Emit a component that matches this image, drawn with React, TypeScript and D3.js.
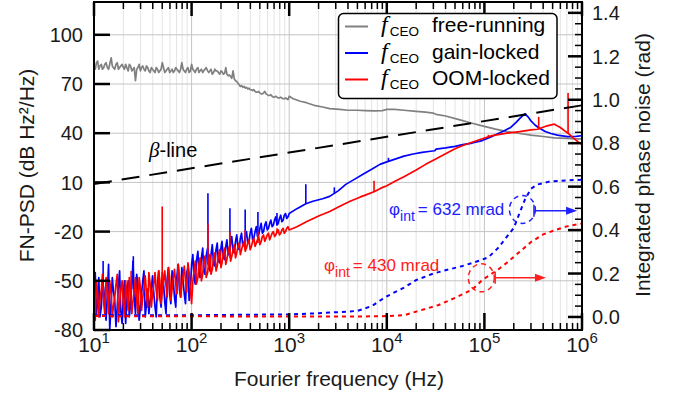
import React from 'react';
import * as d3 from 'd3';

// ---------- data ----------
const noiseFreqs = [10, 10.6, 11.2, 11.9, 12.6, 13.3, 14.1, 15, 15.8, 16.8, 17.8, 18.8, 20, 21.1, 22.4, 23.7, 25.1, 26.6, 28.2, 29.9,
  31.6, 33.5, 35.5, 37.6, 39.8, 42.2, 44.7, 47.3, 50.1, 53.1, 56.2, 59.6, 63.1, 66.8, 70.8, 75, 79.4, 84.1, 89.1, 94.4,
  100, 106, 112, 119, 126, 133, 141, 150, 158, 168, 178, 188, 200, 211, 224, 237, 251, 266, 282, 299,
  316, 335, 355, 376, 398, 422, 447, 473, 501, 531, 562, 596, 631, 668, 708, 750, 794, 841, 891, 944, 1000];
const noiseFreqsMid = [10.3, 10.9, 11.5, 12.2, 12.9, 13.7, 14.5, 15.4, 16.3, 17.3, 18.3, 19.4, 20.5, 21.7, 23, 24.4, 25.8, 27.4, 29, 30.7,
  32.5, 34.5, 36.5, 38.7, 41, 43.4, 46, 48.7, 51.6, 54.7, 57.9, 61.3, 64.9, 68.8, 72.9, 77.2, 81.8, 86.6, 91.7, 97.2,
  103, 109, 116, 122, 130, 137, 146, 154, 163, 173, 183, 194, 205, 218, 230, 244, 258, 274, 290, 307,
  325, 345, 365, 387, 410, 434, 460, 487, 516, 546, 579, 613, 649, 688, 729, 772, 818, 866, 917, 972];

const freeLowDb = [81, 83, 79, 82, 80, 83, 79, 86, 80, 82, 79, 81, 80, 82, 78, 81, 79, 72, 80, 78,
  81, 78, 80, 77, 79, 77, 79, 78, 83, 77, 79, 77, 79, 78, 79, 77, 83, 78, 79, 77,
  82, 78, 79, 77, 79, 78, 80, 77, 79, 77, 78, 77, 78, 76, 80, 75, 74.5, 78, 72, 70.5,
  68.5, 68, 67.5, 67, 66.5, 66, 65.5, 65, 64.5, 64, 65.5, 63.5, 63, 62.5, 62, 62, 61.5, 61.5, 61, 61, 62.5];
const freeMidDb = [79, 84, 81, 79, 82, 80, 82, 81, 79, 83, 80, 82, 79, 80, 82, 78, 80, 79, 82, 80,
  79, 81, 78, 80, 78, 80, 77, 79, 80, 78, 80, 78, 77, 80, 78, 79, 79, 77, 80, 78,
  79, 77, 80, 78, 77, 79, 78, 78, 76, 79, 78, 76, 77.5, 76.5, 76, 75.5, 73.5, 73, 71.5, 69.5,
  69, 68.5, 68, 67.5, 66.5, 66.5, 65, 65.5, 64, 64.5, 64, 63, 63.5, 62, 62.5, 61.5, 62, 61, 61.5, 60.5];

const gainLowDb = [-52, -70, -48, -66, -55, -74, -40, -63, -56, -78, -52, -68, -58, -76, -50, -64, -38, -70, -54, -66,
  -50, -72, -55, -62, -47, -66, -52, -60, -45, -63, -49, -58, -44, -60, -47, -55, -42, -58, -45, -62,
  -40, -48, -38, -46, -36, -44, -35, -42, -34, -40, -31, -38, -30, -36, -29, -34, -27, -32, -26, -30,
  -24, -29, -23, -27, -21, -25, -20, -23, -18, -21, -16, -19, -15, -17, -13, -16, -12, -14, -10, -12, -9];
const gainMidDb = [-45, -62, -72, -50, -64, -58, -80, -48, -62, -66, -44, -76, -50, -62, -72, -52, -60, -46, -74, -58,
  -44, -64, -70, -55, -58, -72, -44, -66, -52, -70, -42, -64, -50, -66, -40, -60, -50, -64, -42, -55,
  -34, -52, -32, -48, -30, -46, -30, -44, -28, -41, -27, -39, -26, -37, -25, -34, -23, -33, -22, -31,
  -21, -28, -20, -26, -18, -24, -17, -22, -15, -20, -14, -18, -13, -16, -11, -15, -10, -13, -9, -11];

const oomLowDb = [-66, -50, -72, -55, -64, -48, -70, -58, -66, -52, -75, -56, -64, -50, -68, -55, -62, -48, -70, -54,
  -60, -47, -66, -52, -58, -45, -62, -50, -56, -44, -60, -48, -55, -43, -58, -47, -53, -41, -57, -45,
  -64, -44, -52, -40, -50, -39, -48, -38, -46, -36, -44, -35, -42, -33, -40, -32, -38, -31, -36, -29,
  -34, -28, -32, -27, -31, -26, -29, -25, -28, -23, -26, -22, -25, -21, -23, -20, -22, -19, -21, -18, -19];
const oomMidDb = [-74, -58, -62, -46, -70, -56, -50, -72, -60, -46, -64, -50, -72, -58, -48, -70, -56, -62, -48, -68,
  -55, -58, -45, -66, -52, -56, -44, -64, -50, -53, -42, -62, -48, -52, -40, -60, -47, -50, -39, -55,
  -50, -38, -48, -36, -46, -35, -45, -34, -43, -33, -41, -31, -39, -30, -37, -29, -35, -28, -33, -27,
  -31, -26, -30, -25, -29, -24, -27, -23, -26, -22, -24, -21, -23, -20, -22, -19, -21, -18, -20, -17];

const freeHighFreqs = [1100, 1300, 1500, 1800, 2200, 2600, 3300, 4000, 5000, 6000, 7500, 9000, 10000, 12000, 15000, 20000,
  25000, 30000, 32000, 40000, 55000, 70000, 95000, 130000, 170000, 230000, 300000, 400000, 520000, 700000, 900000, 1000000];
const freeHighDb = [61, 59.5, 58.6, 57, 56, 55, 54.5, 54, 54, 53.8, 53.6, 53.8, 54.5, 54.5, 54, 53.3,
  52.8, 52.2, 51.5, 50.5, 48.3, 46.5, 44.5, 42.5, 41, 39.8, 38.8, 38, 37.2, 36.8, 36.6, 36.5];

const gainHighFreqs = [1200, 1480, 1750, 2200, 2600, 3200, 3800, 4700, 5700, 7000, 8500, 10000, 12600, 15000, 18600, 23000,
  28000, 31000, 32000, 40000, 50000, 60000, 75000, 95000, 115000, 130000, 160000, 186000, 210000, 235000, 260000,
  280000, 300000, 330000, 360000, 420000, 480000, 560000, 710000, 850000, 1000000];
const gainHighDb = [-6, -3, -1.5, 0, 1.5, 5, 8.8, 12, 15, 18, 21, 22.5, 24.5, 26, 27.3, 28.3,
  29, 29.3, 30.3, 31, 32, 33, 34, 35.5, 37.5, 39, 41.5, 43.5, 46.5, 49.5, 51.8,
  50, 47.5, 45, 43.3, 41, 39.8, 38.8, 37.9, 38, 38.5];

const oomHighFreqs = [1200, 1500, 2000, 2600, 3300, 4200, 5300, 6500, 7500, 8700, 10000, 12000, 15000, 20000, 25000, 30000,
  40000, 50000, 60000, 75000, 95000, 120000, 170000, 230000, 300000, 350000, 440000, 520000, 600000, 680000, 720000,
  800000, 900000, 1000000];
const oomHighDb = [-17, -14, -10.5, -7.7, -4.5, -1.5, 1, 3, 4.5, 6.5, 8, 10.5, 13.5, 17.5, 21, 23.5,
  27.5, 30.5, 32.5, 34.5, 36.6, 38.5, 40, 41, 42, 42.4, 44.5, 45.5, 43.5, 41, 40,
  37.5, 35, 33];

// spikes: [frequency, base dB, peak dB]
const gainSpikes = [[12.4, -60, -38], [25.3, -55, -35], [147, -40, 3.4], [247, -30, -5.7], [354, -25, -6.5],
  [478, -21, -8], [750, -16, -8.7], [1480, -3, 8.8], [2900, 3, 7], [10400, 22.5, 25]];
const oomSpikes = [[24, -58, -44], [50, -56, -4.7], [147, -40, -15], [247, -36, -20], [354, -31, -19],
  [478, -27, -20], [750, -21, -18], [7400, 4.5, 11], [110000, 37.5, 39], [360000, 42.4, 50], [720000, 40, 64.5]];

const betaFreqs = [10, 1000000];
const betaDb = [9, 57];

const ipnGainFreqs = [10, 100, 1000, 2000, 4000, 5000, 7000, 8500, 10000, 15000, 20000, 30000, 40000, 60000, 90000,
  110000, 140000, 170000, 200000, 230000, 260000, 300000, 350000, 450000, 600000, 1000000];
const ipnGainRad = [0.008, 0.008, 0.012, 0.017, 0.025, 0.028, 0.05, 0.075, 0.095, 0.135, 0.17, 0.2, 0.215, 0.235, 0.26,
  0.275, 0.32, 0.37, 0.41, 0.48, 0.54, 0.59, 0.61, 0.622, 0.627, 0.632];

const ipnOomFreqs = [10, 100, 1000, 5000, 10000, 15000, 22000, 34000, 50000, 75000, 95000, 140000, 170000, 230000,
  300000, 400000, 530000, 700000, 1000000];
const ipnOomRad = [0.004, 0.003, 0.002, 0.002, 0.004, 0.008, 0.03, 0.055, 0.088, 0.126, 0.17, 0.22, 0.25, 0.3,
  0.345, 0.38, 0.4, 0.417, 0.43];

const leftTicks = [-80, -50, -20, 10, 40, 70, 100];
const rightTicks = [0, 0.2, 0.4, 0.6, 0.8, 1.0, 1.2, 1.4];
const rightTickLabels = ['0.0', '0.2', '0.4', '0.6', '0.8', '1.0', '1.2', '1.4'];
const decades = [10, 100, 1000, 10000, 100000, 1000000];
const decadeExps = ['1', '2', '3', '4', '5', '6'];

const legendItems = ['free-running', 'gain-locked', 'OOM-locked'];
const COLORS = { free: '#808080', gain: '#0000ff', oom: '#ff0000' };

// ---------- layout ----------
const W = 682, H = 396;
const L = 94, R = 582, T = 2, B = 330;
const FONT = '"Liberation Sans", Arial, Helvetica, sans-serif';

function merge(low: number[], mid: number[]) {
  const out: number[][] = [];
  noiseFreqs.forEach((f, i) => {
    out.push([f, low[i]]);
    if (i < noiseFreqsMid.length) out.push([noiseFreqsMid[i], mid[i]]);
  });
  return out;
}

export default function App() {
  const x = d3.scaleLog().domain([10, 1e6]).range([L, R]);
  const yL = d3.scaleLinear().domain([-80, 120]).range([B, T]);
  const yR = d3.scaleLinear().domain([-0.06, 1.45]).range([B, T]);

  const lineL = d3.line<number[]>().x(d => x(d[0])).y(d => yL(d[1]));
  const lineR = d3.line<number[]>().x(d => x(d[0])).y(d => yR(d[1]));

  const freePts = merge(freeLowDb, freeMidDb).concat(freeHighFreqs.map((f, i) => [f, freeHighDb[i]]));
  const gainPts = merge(gainLowDb, gainMidDb).concat(gainHighFreqs.map((f, i) => [f, gainHighDb[i]]));
  const oomPts = merge(oomLowDb, oomMidDb).concat(oomHighFreqs.map((f, i) => [f, oomHighDb[i]]));
  const betaPts = betaFreqs.map((f, i) => [f, betaDb[i]]);
  const ipnGain = ipnGainFreqs.map((f, i) => [f, ipnGainRad[i]]);
  const ipnOom = ipnOomFreqs.map((f, i) => [f, ipnOomRad[i]]);

  const minor: number[] = [];
  decades.slice(0, -1).forEach(d => { for (let k = 2; k <= 9; k++) minor.push(d * k); });
  const rightMinor: number[] = [];
  for (let i = 0; i <= 28; i++) { if (i % 4 !== 0) rightMinor.push(i * 0.05); }

  const arrow = (x1: number, x2: number, y: number, color: string) => (
    <g>
      <line x1={x1} x2={x1} y1={y - 6} y2={y + 6} stroke={color} strokeWidth={1.5} />
      <line x1={x1} x2={x2 - 9} y1={y} y2={y} stroke={color} strokeWidth={1.5} />
      <polygon points={`${x2},${y} ${x2 - 11},${y - 4} ${x2 - 11},${y + 4}`} fill={color} />
    </g>
  );

  return (
    <svg width={W} height={H} style={{ position: 'absolute', left: 0, top: 0, background: '#fff' }} fontFamily={FONT}>
      <defs>
        <clipPath id="plot"><rect x={L} y={T} width={R - L} height={B - T} /></clipPath>
      </defs>
      <rect x={0} y={0} width={W} height={H} fill="#fff" />
      {/* grid */}
      {minor.map(f => <line key={'gm' + f} x1={x(f)} x2={x(f)} y1={T} y2={B} stroke="#e4e4e4" strokeWidth={1} />)}
      {decades.map(f => <line key={'gd' + f} x1={x(f)} x2={x(f)} y1={T} y2={B} stroke="#c4c4c4" strokeWidth={1} />)}
      {leftTicks.map(v => <line key={'gh' + v} x1={L} x2={R} y1={yL(v)} y2={yL(v)} stroke="#c4c4c4" strokeWidth={1} />)}

      <g clipPath="url(#plot)" fill="none" strokeLinejoin="round">
        <path d={lineL(freePts) || ''} stroke={COLORS.free} strokeWidth={1.7} />
        <path d={lineL(gainPts) || ''} stroke={COLORS.gain} strokeWidth={1.7} />
        {gainSpikes.map((s, i) => <line key={'gs' + i} x1={x(s[0])} x2={x(s[0])} y1={yL(s[1])} y2={yL(s[2])} stroke={COLORS.gain} strokeWidth={1.6} />)}
        <path d={lineL(oomPts) || ''} stroke={COLORS.oom} strokeWidth={1.7} />
        {oomSpikes.map((s, i) => <line key={'os' + i} x1={x(s[0])} x2={x(s[0])} y1={yL(s[1])} y2={yL(s[2])} stroke={COLORS.oom} strokeWidth={1.6} />)}
        <path d={lineL(betaPts) || ''} stroke="#000" strokeWidth={2} strokeDasharray="18,10" />
        <path d={lineR(ipnGain) || ''} stroke={COLORS.gain} strokeWidth={2} strokeDasharray="4,4" />
        <path d={lineR(ipnOom) || ''} stroke={COLORS.oom} strokeWidth={2} strokeDasharray="4,4" />
      </g>

      {/* frame & ticks */}
      <rect x={L} y={T} width={R - L} height={B - T} fill="none" stroke="#000" strokeWidth={2} />
      {leftTicks.map(v => <line key={'lt' + v} x1={L} x2={L + 16} y1={yL(v)} y2={yL(v)} stroke="#000" strokeWidth={2.5} />)}
      {rightTicks.map(v => <line key={'rt' + v} x1={R - 14} x2={R} y1={yR(v)} y2={yR(v)} stroke="#000" strokeWidth={2.5} />)}
      {rightMinor.map(v => <line key={'rm' + v} x1={R - 7} x2={R} y1={yR(v)} y2={yR(v)} stroke="#000" strokeWidth={1.5} />)}
      {decades.map(f => <g key={'bt' + f}>
        <line x1={x(f)} x2={x(f)} y1={B} y2={B - 17} stroke="#000" strokeWidth={2.5} />
        <line x1={x(f)} x2={x(f)} y1={T} y2={T + 14} stroke="#000" strokeWidth={2.5} />
      </g>)}
      {minor.map(f => <g key={'bm' + f}>
        <line x1={x(f)} x2={x(f)} y1={B} y2={B - 7} stroke="#000" strokeWidth={1.5} />
        <line x1={x(f)} x2={x(f)} y1={T} y2={T + 7} stroke="#000" strokeWidth={1.5} />
      </g>)}

      {/* tick labels */}
      {leftTicks.map(v => <text key={'ll' + v} x={83} y={yL(v)} dy="0.36em" textAnchor="end" fontSize={20} fill="#1a1a1a">{v}</text>)}
      {rightTicks.map((v, i) => <text key={'rl' + v} x={592} y={yR(v)} dy="0.36em" textAnchor="start" fontSize={20} fill="#1a1a1a">{rightTickLabels[i]}</text>)}
      {decades.map((f, i) => <text key={'xl' + f} x={x(f)} y={352} textAnchor="middle" fontSize={21} fill="#1a1a1a">
        10<tspan fontSize={15} dy={-9}>{decadeExps[i]}</tspan></text>)}

      {/* axis titles */}
      <text x={339} y={386} textAnchor="middle" fontSize={21} fill="#1a1a1a">Fourier frequency (Hz)</text>
      <text transform="translate(33.5,165.5) rotate(-90)" textAnchor="middle" fontSize={21} fill="#1a1a1a">FN-PSD (dB Hz²/Hz)</text>
      <text transform="translate(650,165) rotate(-90)" textAnchor="middle" fontSize={21} fill="#1a1a1a">Integrated phase noise (rad)</text>

      {/* beta-line label */}
      <text x={149} y={157} fontSize={20} fill="#000">
        <tspan fontFamily='"Liberation Serif", "Times New Roman", serif' fontStyle="italic" fontSize={21}>β</tspan>-line</text>

      {/* legend */}
      <rect x={338.5} y={13.5} width={218.5} height={85} rx={5} fill="#fff" stroke="#000" strokeWidth={1.5} />
      {legendItems.map((lab, i) => {
        const col = [COLORS.free, COLORS.gain, COLORS.oom][i];
        const by = 32.3 + i * 26.5;
        return <g key={'lg' + i}>
          <line x1={345} x2={368} y1={by - 5.8} y2={by - 5.8} stroke={col} strokeWidth={2} />
          <text x={381} y={by} fontSize={21} fill="#000">
            <tspan fontFamily='"Liberation Serif", "Times New Roman", serif' fontStyle="italic" fontSize={24}>f</tspan>
            <tspan fontSize={13.5} dx={2} dy={4}>CEO</tspan>
          </text>
          <text x={432} y={by} fontSize={21} fill="#000">{lab}</text>
        </g>;
      })}

      {/* annotations */}
      <text x={389} y={215} fontSize={17} fill="#2020ff">φ<tspan fontSize={14} dy={6}>int</tspan><tspan dy={-6} dx={3}>= 632 mrad</tspan></text>
      <ellipse cx={x(2.45e5)} cy={yR(0.495)} rx={13} ry={14} fill="none" stroke="#2020ff" strokeWidth={1.5} strokeDasharray="5,4" />
      {arrow(x(3.22e5), x(8.9e5), yR(0.489), '#2020ff')}

      <text x={324} y={271} fontSize={17} fill="#ff2020">φ<tspan fontSize={14} dy={6}>int</tspan><tspan dy={-6} dx={3}>= 430 mrad</tspan></text>
      <ellipse cx={x(9.3e4)} cy={yR(0.18)} rx={13} ry={14} fill="none" stroke="#ff2020" strokeWidth={1.5} strokeDasharray="5,4" />
      {arrow(x(1.29e5), x(4.27e5), yR(0.18), '#ff2020')}
    </svg>
  );
}
